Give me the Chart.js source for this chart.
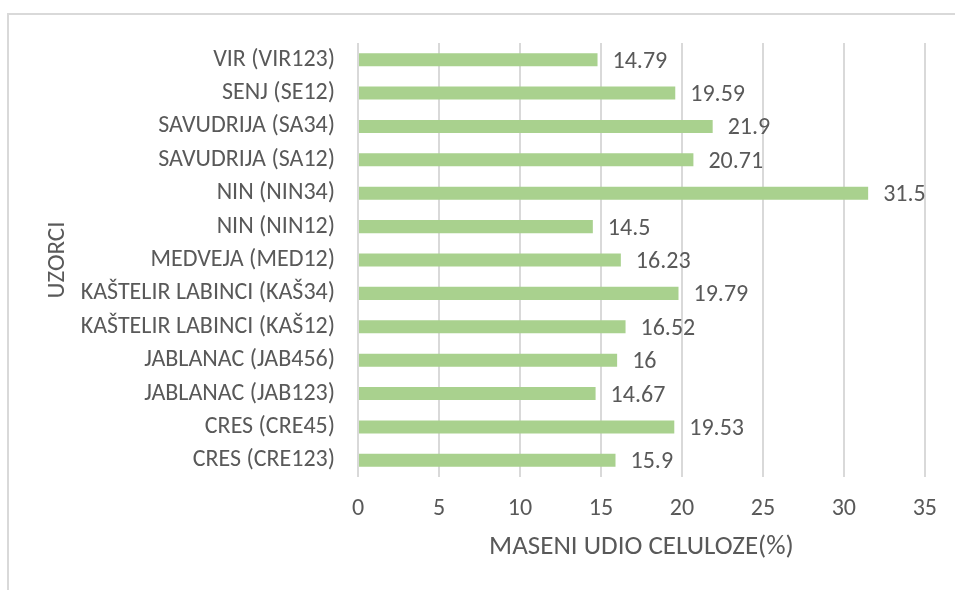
<!DOCTYPE html>
<html>
<head>
<meta charset="utf-8">
<script src="https://cdn.jsdelivr.net/npm/chart.js@4"></script>
<style>
  body { margin: 0; background: #fff; }
  #frame { position: absolute; left: 7px; top: 13px; width: 960px; height: 590px;
           border-left: 2px solid #d9d9d9; border-top: 2px solid #d9d9d9; }
  #c { position: absolute; left: 0; top: 0; }
</style>
</head>
<body>
<div id="frame"></div>
<canvas id="c" width="955" height="590"></canvas>
<script>
// samples (top to bottom as drawn)
var samples = ['VIR (VIR123)', 'SENJ (SE12)', 'SAVUDRIJA (SA34)', 'SAVUDRIJA (SA12)', 'NIN (NIN34)',
  'NIN (NIN12)', 'MEDVEJA (MED12)', 'KAŠTELIR LABINCI (KAŠ34)', 'KAŠTELIR LABINCI (KAŠ12)',
  'JABLANAC (JAB456)', 'JABLANAC (JAB123)', 'CRES (CRE45)', 'CRES (CRE123)'];
var celuloza = [14.79, 19.59, 21.9, 20.71, 31.5, 14.5, 16.23, 19.79, 16.52, 16, 14.67, 19.53, 15.9];
var xTicks = [0, 5, 10, 15, 20, 25, 30, 35];

var fnt = "Carlito, 'Liberation Sans', sans-serif";
var grey = '#595959';

// value labels at the end of each bar
var barLabels = {
  id: 'barLabels',
  afterDatasetsDraw: function(chart) {
    var ctx = chart.ctx;
    var meta = chart.getDatasetMeta(0);
    ctx.save();
    ctx.font = '24px ' + fnt;
    ctx.fillStyle = grey;
    ctx.textAlign = 'left';
    ctx.textBaseline = 'middle';
    meta.data.forEach(function(bar, i) {
      ctx.fillText(String(celuloza[i]), bar.x + 15, bar.y + 2);
    });
    ctx.restore();
  }
};

new Chart(document.getElementById('c').getContext('2d'), {
  type: 'bar',
  data: {
    labels: samples,
    datasets: [{
      label: 'Maseni udio celuloze',
      data: celuloza,
      backgroundColor: '#a9d18e',
      barPercentage: 0.39,
      categoryPercentage: 1
    }]
  },
  options: {
    indexAxis: 'y',
    responsive: false,
    animation: false,
    layout: { padding: { left: 0, right: 26, top: 43, bottom: 0 } },
    plugins: { legend: { display: false }, tooltip: { enabled: false } },
    scales: {
      x: {
        min: 0, max: 35,
        afterBuildTicks: function(s) { s.ticks = xTicks.map(function(v) { return { value: v }; }); },
        afterFit: function(s) { s.height = 113; },
        grid: { color: '#d9d9d9', lineWidth: 2, drawTicks: false },
        border: { display: false },
        ticks: { color: grey, font: { family: fnt, size: 24 }, padding: 18 },
        title: { display: true, text: 'MASENI UDIO CELULOZE(%)', color: grey,
                 font: { family: fnt, size: 27 }, padding: { bottom: 27 } }
      },
      y: {
        afterFit: function(s) { s.width = 358; },
        grid: { display: false, drawTicks: false },
        border: { display: false },
        ticks: { color: grey, font: { family: fnt, size: 24 }, padding: 23 },
        title: { display: true, text: 'UZORCI', color: grey,
                 font: { family: fnt, size: 25 }, padding: { top: 43 } }
      }
    }
  },
  plugins: [barLabels]
});
</script>
</body>
</html>
